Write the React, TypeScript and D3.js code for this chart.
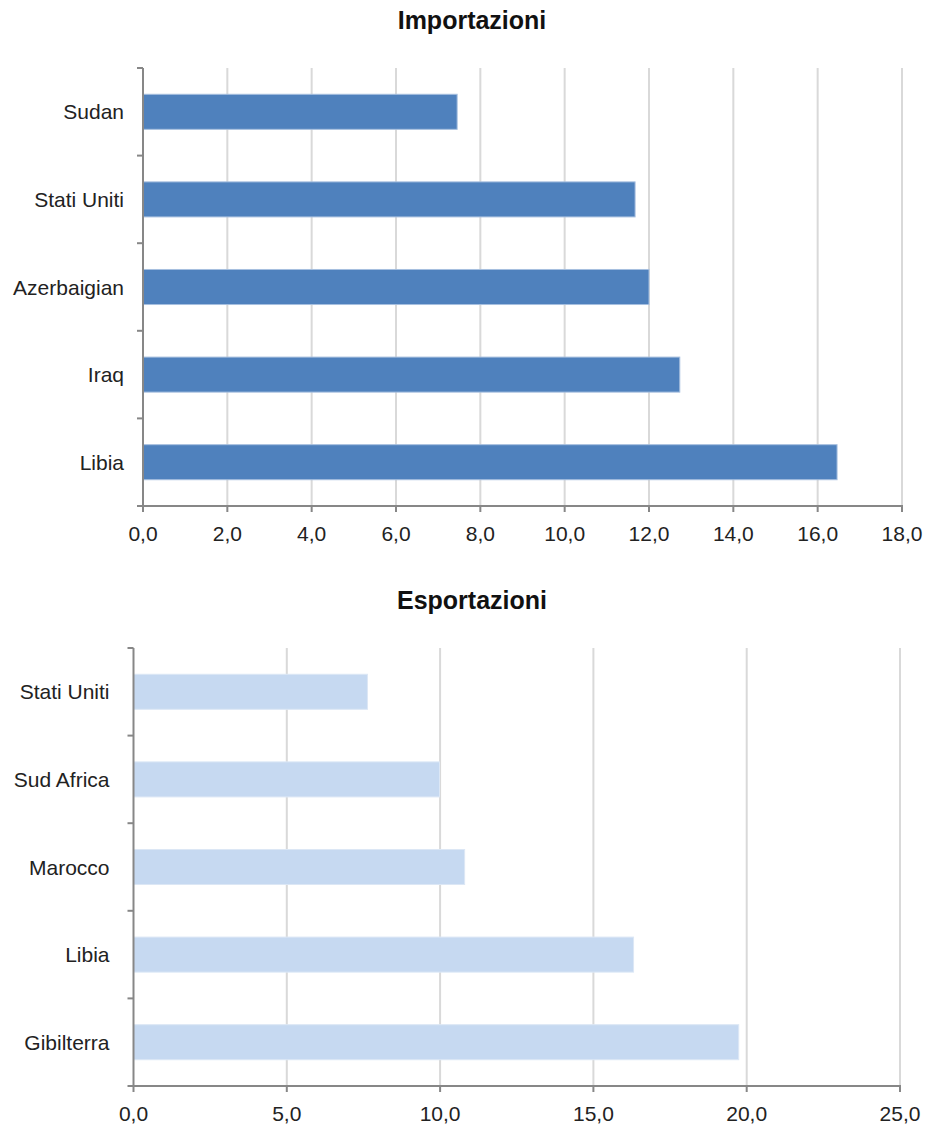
import React from "react";
import * as d3 from "d3";

const importCategories = ["Sudan", "Stati Uniti", "Azerbaigian", "Iraq", "Libia"];
const importValues = [7.45, 11.67, 12.0, 12.73, 16.46];
const importTicks = [0, 2, 4, 6, 8, 10, 12, 14, 16, 18];

const exportCategories = ["Stati Uniti", "Sud Africa", "Marocco", "Libia", "Gibilterra"];
const exportValues = [7.63, 9.98, 10.8, 16.31, 19.74];
const exportTicks = [0, 5, 10, 15, 20, 25];

const FONT = "'Liberation Sans', Arial, sans-serif";
const fmt = (v: number) => v.toFixed(1).replace(".", ",");

type PanelProps = {
  title: string;
  titleY: number;
  categories: string[];
  values: number[];
  ticks: number[];
  x0: number;
  x1: number;
  y0: number;
  y1: number;
  color: string;
  stroke: string;
  labelGap: number;
};

function Panel(p: PanelProps) {
  const x = d3.scaleLinear().domain([p.ticks[0], p.ticks[p.ticks.length - 1]]).range([p.x0, p.x1]);
  const y = d3
    .scaleBand<string>()
    .domain(p.categories)
    .range([p.y0, p.y1])
    .paddingInner(0.6)
    .paddingOuter(0.3);
  const step = y.step();
  const catTicks = d3.range(p.categories.length + 1).map((i) => p.y0 + i * step);
  const axisColor = "#878787";
  return (
    <g>
      <text
        x={472}
        y={p.titleY}
        textAnchor="middle"
        fontFamily={FONT}
        fontWeight="bold"
        fontSize={25}
        fill="#111"
      >
        {p.title}
      </text>
      {p.ticks.slice(1).map((t) => (
        <line key={"g" + t} x1={x(t)} x2={x(t)} y1={p.y0} y2={p.y1} stroke="#d9d9d9" strokeWidth={2} />
      ))}
      {p.categories.map((c, i) => (
        <rect
          key={c}
          x={x(0)}
          y={y(c)!}
          width={x(p.values[i]) - x(0)}
          height={y.bandwidth()}
          fill={p.color}
          stroke={p.stroke}
          strokeWidth={1}
        />
      ))}
      <line x1={p.x0} x2={p.x0} y1={p.y0} y2={p.y1} stroke={axisColor} strokeWidth={2} />
      {catTicks.map((t, i) => (
        <line key={"ct" + i} x1={p.x0 - 6} x2={p.x0} y1={t} y2={t} stroke={axisColor} strokeWidth={2} />
      ))}
      {p.categories.map((c) => (
        <text
          key={"l" + c}
          x={p.x0 - p.labelGap}
          y={y(c)! + y.bandwidth() / 2 + 7.5}
          textAnchor="end"
          fontFamily={FONT}
          fontSize={21}
          fill="#222"
        >
          {c}
        </text>
      ))}
      <line x1={p.x0 - 1} x2={p.x1 + 1} y1={p.y1} y2={p.y1} stroke={axisColor} strokeWidth={2} />
      {p.ticks.map((t) => (
        <g key={"vt" + t}>
          <line x1={x(t)} x2={x(t)} y1={p.y1} y2={p.y1 + 6} stroke={axisColor} strokeWidth={2} />
          <text
            x={x(t)}
            y={p.y1 + 35}
            textAnchor="middle"
            fontFamily={FONT}
            fontSize={21}
            fill="#222"
          >
            {fmt(t)}
          </text>
        </g>
      ))}
    </g>
  );
}

export default function App() {
  return (
    <svg
      width={927}
      height={1124}
      style={{ position: "absolute", left: 0, top: 0, background: "#fff" }}
    >
      <rect x={0} y={0} width={927} height={1124} fill="#fff" />
      <Panel
        title="Importazioni"
        titleY={29}
        categories={importCategories}
        values={importValues}
        ticks={importTicks}
        x0={143}
        x1={902}
        y0={68}
        y1={506}
        color="#4f81bd"
        stroke="#a7bfdf"
        labelGap={19}
      />
      <Panel
        title="Esportazioni"
        titleY={609}
        categories={exportCategories}
        values={exportValues}
        ticks={exportTicks}
        x0={133.5}
        x1={900}
        y0={648}
        y1={1086}
        color="#c6d9f1"
        stroke="#dce7f5"
        labelGap={24}
      />
    </svg>
  );
}
